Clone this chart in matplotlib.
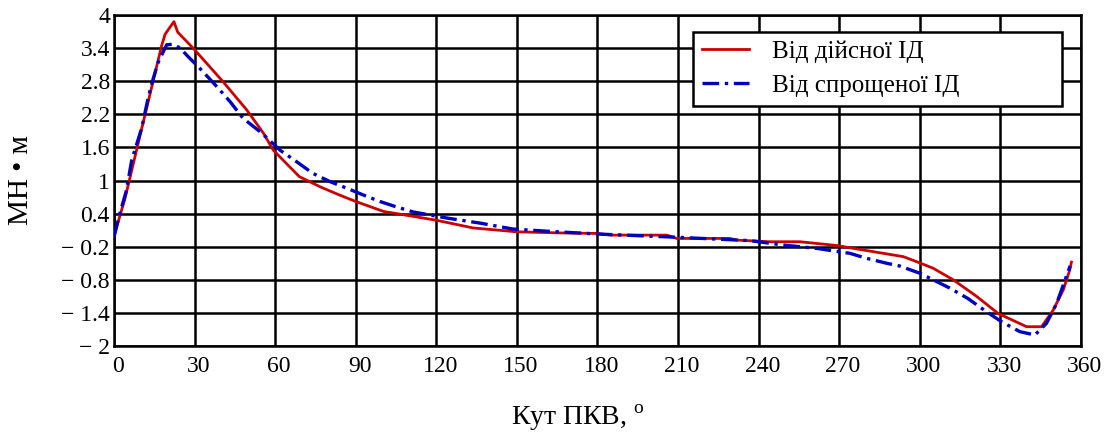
import numpy as np
import matplotlib.pyplot as plt
import matplotlib.transforms as mtransforms

plt.rcParams['font.family'] = ['Liberation Serif', 'DejaVu Serif']
plt.rcParams['mathtext.fontset'] = 'custom'
plt.rcParams['mathtext.rm'] = 'Liberation Serif'

# крутний момент від дійсної індикаторної діаграми
angle_real = [0, 4, 10, 14, 17.7, 19.0, 22.3, 23.7, 30, 40.6, 49.4, 55.6, 59.3, 69, 77,
              83.8, 90, 100.3, 120, 133.7, 150, 166, 180, 185, 205.8, 209.5, 229.3, 231.8,
              244, 255.4, 269.4, 275.3, 293.9, 298.8, 305, 312.5, 321.2, 329.2, 339.8,
              345.4, 349.7, 353.5, 355.9, 356.5]
torque_real = [0.0, 0.66, 1.88, 2.69, 3.44, 3.65, 3.88, 3.69, 3.37, 2.79, 2.28, 1.86, 1.55,
               1.07, 0.88, 0.74, 0.62, 0.44, 0.28, 0.14, 0.07, 0.05, 0.04, 0.01, 0.01, -0.05,
               -0.05, -0.08, -0.11, -0.11, -0.18, -0.23, -0.38, -0.47, -0.59, -0.80, -1.10,
               -1.41, -1.65, -1.65, -1.35, -0.98, -0.62, -0.48]

# крутний момент від спрощеної індикаторної діаграми
angle_simple = [0, 2.2, 4.5, 6.6, 10.3, 12.8, 14.6, 16.5, 19.6, 22, 24.6, 27.7, 32, 38.3,
                43.2, 48, 55, 61.8, 68, 74, 80.4, 86.7, 92.7, 99, 104.6, 111.4, 123.9, 136,
                148.6, 161.6, 180, 210, 236.8, 249.2, 261.6, 274, 280.2, 287.7, 292.6, 300,
                311.2, 318, 324.9, 330.5, 337.3, 342.9, 347.2, 351, 356]
torque_simple = [-0.02, 0.41, 0.80, 1.37, 1.95, 2.52, 2.85, 3.15, 3.46, 3.47, 3.40, 3.24,
                 3.03, 2.70, 2.43, 2.13, 1.86, 1.55, 1.34, 1.13, 0.98, 0.86, 0.74, 0.62,
                 0.53, 0.43, 0.32, 0.23, 0.12, 0.08, 0.03, -0.03, -0.09, -0.17, -0.23,
                 -0.32, -0.41, -0.50, -0.55, -0.68, -0.95, -1.14, -1.38, -1.56, -1.74,
                 -1.80, -1.59, -1.23, -0.55]

x_ticks = np.arange(0, 361, 30)
y_ticks = [-2, -1.4, -0.8, -0.2, 0.4, 1, 1.6, 2.2, 2.8, 3.4, 4]
y_tick_labels = ['− 2', '− 1.4', '− 0.8', '− 0.2', '0.4', '1', '1.6', '2.2', '2.8', '3.4', '4']

fig = plt.figure(figsize=(11.04, 4.41), dpi=100)
ax = fig.add_axes([0.1033, 0.2154, 0.8757, 0.7506])

ax.plot(angle_real, torque_real, color='#cc0000', lw=2.0, label='Від дійсної ІД', zorder=3)
ax.plot(angle_simple, torque_simple, color='#0000c0', lw=2.4,
        linestyle=(0, (5, 1.7, 1, 1.7)), label='Від спрощеної ІД', zorder=4)

ax.set_xlim(0, 360)
ax.set_ylim(-2, 4)
ax.set_xticks(x_ticks)
ax.set_yticks(y_ticks)
ax.set_yticklabels(y_tick_labels)
ax.tick_params(length=0, labelsize=17)
ax.tick_params(axis='x', pad=7)
ax.tick_params(axis='y', pad=3)
ax.grid(True, color='black', lw=1.8)
ax.set_axisbelow(True)
for s in ax.spines.values():
    s.set_linewidth(1.8)

# підписи осі X трохи зсунуті праворуч
shift = mtransforms.ScaledTranslation(4 / 100, 0, fig.dpi_scale_trans)
for lbl in ax.get_xticklabels():
    lbl.set_transform(lbl.get_transform() + shift)

ax.set_ylabel('МН • м', fontsize=21)
ax.yaxis.set_label_coords(-0.083, 0.5)
ax.set_xlabel(r'Кут ПКВ, $^{\mathrm{o}}$', fontsize=20)
ax.xaxis.set_label_coords(0.48, -0.17)

leg = ax.legend(loc='upper left', bbox_to_anchor=(0.599, 0.949, 0.382, 0.0), mode='expand',
                fontsize=18, frameon=True, fancybox=False, handlelength=1.9,
                borderpad=0.35, labelspacing=0.45, handletextpad=0.9, borderaxespad=0)
leg.get_frame().set_edgecolor('black')
leg.get_frame().set_linewidth(1.8)
leg.get_frame().set_alpha(1)

fig.savefig('out.png', dpi=100)
